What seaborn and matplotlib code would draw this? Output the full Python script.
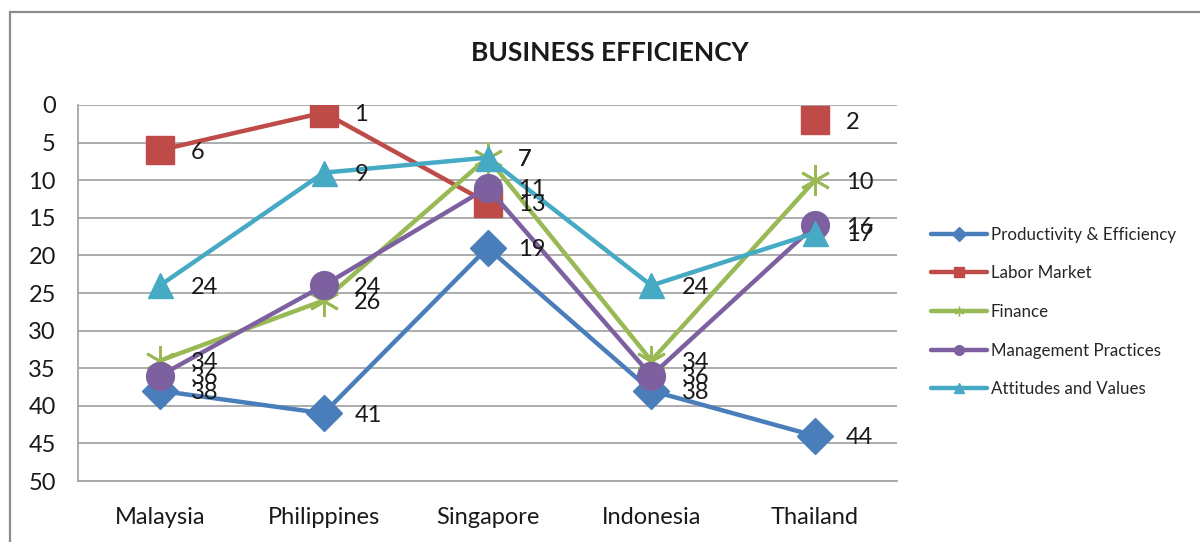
import numpy as np
import pandas as pd
import matplotlib
matplotlib.use("Agg")
import matplotlib.pyplot as plt
import seaborn as sns
from matplotlib.lines import Line2D
from matplotlib.patches import Rectangle

categories = ["Malaysia", "Philippines", "Singapore", "Indonesia", "Thailand"]
productivity = [38, 41, 19, 38, 44]
labor_market = [6, 1, 13, np.nan, 2]
finance = [34, 26, 7, 34, 10]
management = [36, 24, 11, 36, 16]
attitudes = [24, 9, 7, 24, 17]
series_names = ["Productivity & Efficiency", "Labor Market", "Finance",
                "Management Practices", "Attitudes and Values"]
yticks = [0, 5, 10, 15, 20, 25, 30, 35, 40, 45, 50]

sns.set_theme(style="white")
plt.rcParams['font.family'] = ['Lato', 'DejaVu Sans']

colors = ["#4A7EBB", "#BE4B48", "#98B954", "#7D60A0", "#46AAC5"]
markers = ["D", "s", (6, 2, 0), "o", "^"]
msizes = [18, 20, 22, 20, 18]
values = [productivity, labor_market, finance, management, attitudes]

fig = plt.figure(figsize=(12, 5.42), dpi=100)
ax = fig.add_axes([78/1200, 1-481/542, (897-78)/1200, (481-105)/542])

x = np.arange(len(categories))
for name, vals, c, m, ms in zip(series_names, values, colors, markers, msizes):
    arr = np.array(vals, dtype=float)
    # break the line where a value is missing (gap, as in the reference)
    seg = np.cumsum(np.isnan(arr))
    df = pd.DataFrame({"x": x, "y": arr, "seg": seg}).dropna()
    sns.lineplot(data=df, x="x", y="y", units="seg", ax=ax, color=c, lw=3.2, marker=m,
                 markersize=ms, markeredgecolor=c,
                 markeredgewidth=2 if m == (6, 2, 0) else 1,
                 estimator=None, sort=False, legend=False)
    for xi, v in zip(x, arr):
        if not np.isnan(v):
            ax.annotate(f"{int(v)}", (xi, v), xytext=(22, -1.5), textcoords="offset points",
                        ha="left", va="center", fontsize=17, color="#1a1a1a")

ax.set_xlim(-0.5, 4.5)
ax.set_ylim(50, 0)
ax.set_yticks(yticks)
ax.set_xticks(x)
ax.set_xticklabels(categories)
ax.set_xlabel("")
ax.set_ylabel("")
ax.tick_params(axis="both", labelsize=17, colors="#1a1a1a", length=0)
ax.tick_params(axis="y", pad=16)
ax.tick_params(axis="x", pad=19)
ax.grid(axis="y", color="#A6A6A6", lw=1.3)
ax.set_axisbelow(True)
for s in ["top", "right"]:
    ax.spines[s].set_visible(False)
for s in ["left", "bottom"]:
    ax.spines[s].set_color("#A6A6A6")
    ax.spines[s].set_linewidth(1.3)

fig.text(610/1200, 1-53/542, "BUSINESS EFFICIENCY", ha="center", va="center",
         fontsize=19, fontweight="bold", color="#1a1a1a")

handles = [Line2D([0], [0], color=c, lw=3.2, marker=m, markersize=7,
                  markeredgecolor=c) for c, m in zip(colors, markers)]
leg = fig.legend(handles, series_names, loc="center left",
                 bbox_to_anchor=(916/1200, 1-312/542), frameon=False,
                 fontsize=12.2, handlelength=3.3, handletextpad=0.2,
                 labelspacing=1.34)

fig.patches.append(Rectangle((10/1200, -0.05), 1.1, 1-12/542+0.05, transform=fig.transFigure,
                             fill=False, edgecolor="#8C8C8C", lw=1.6, clip_on=False))

fig.savefig("out.png", dpi=100)
